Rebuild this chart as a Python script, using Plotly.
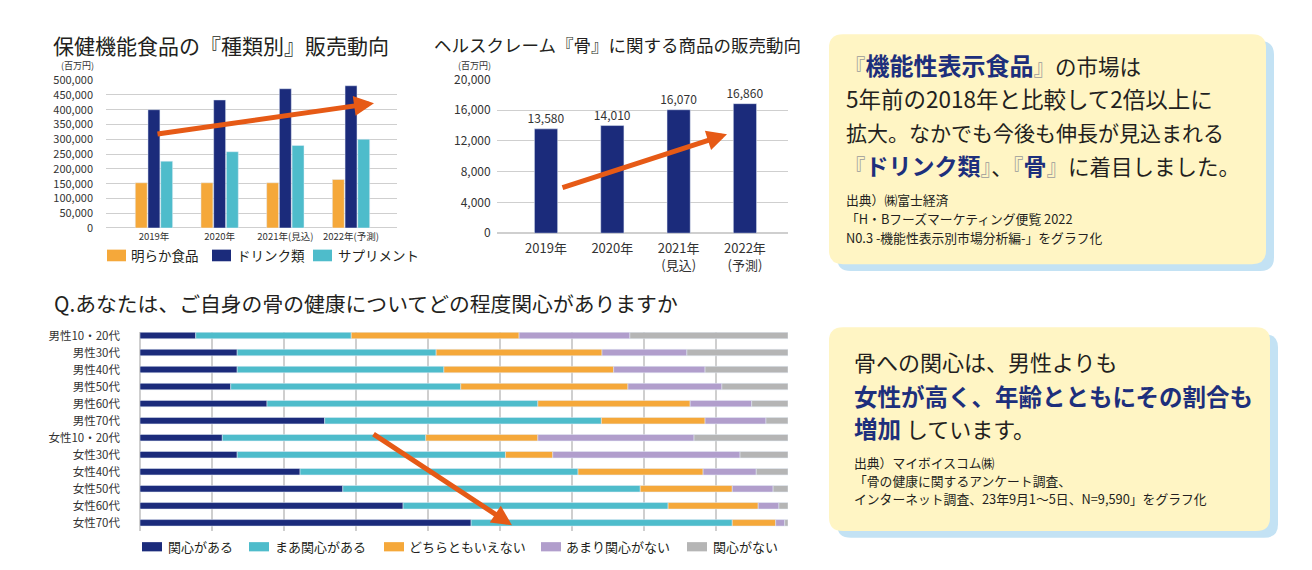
import plotly.graph_objects as go

W, H = 1312, 570
FONT = "Noto Sans CJK JP"
TXT = "#231F20"
NAVY = "#1B2B7B"
CYAN = "#4EBCCB"
ORANGE = "#F5A83A"
PURPLE = "#B19ECC"
GRAY = "#B5B5B5"
ARROW = "#E65A16"
BOLDNAVY = "#1D2F7C"

# ---------------- data ----------------
years1 = ["2019年", "2020年", "2021年(見込)", "2022年(予測)"]
series1_names = ["明らか食品", "ドリンク類", "サプリメント"]
akiraka = [153000, 153000, 153000, 164000]
drink = [400000, 433000, 471000, 481000]
supple = [226000, 258000, 279000, 300000]

years2 = ["2019年", "2020年", "2021年<br>(見込)", "2022年<br>(予測)"]
bone_sales = [13580, 14010, 16070, 16860]

groups = ["男性10・20代", "男性30代", "男性40代", "男性50代", "男性60代", "男性70代",
          "女性10・20代", "女性30代", "女性40代", "女性50代", "女性60代", "女性70代"]
series3_names = ["関心がある", "まあ関心がある", "どちらともいえない", "あまり関心がない", "関心がない"]
kanshin = [8.6, 15.0, 15.0, 14.0, 19.6, 28.5, 12.7, 15.0, 24.7, 31.3, 40.6, 51.1]
maa = [24.0, 30.7, 31.9, 35.5, 41.8, 42.7, 31.4, 41.4, 42.9, 45.9, 40.9, 40.3]
dochira = [25.9, 25.6, 26.2, 25.8, 23.5, 16.0, 17.3, 7.3, 19.3, 14.2, 13.9, 6.7]
amari = [17.1, 13.1, 14.1, 14.5, 9.5, 9.4, 24.1, 28.9, 8.2, 6.3, 3.2, 1.4]
nai = [24.4, 15.6, 12.8, 10.2, 5.6, 3.4, 14.5, 7.4, 4.9, 2.3, 1.4, 0.5]


def X(px):
    return px / W


def Y(py):
    return 1 - py / H


fig = go.Figure()

# ---- chart 1 : grouped bars ----
for name, vals, col in zip(series1_names, [akiraka, drink, supple], [ORANGE, NAVY, CYAN]):
    fig.add_trace(go.Bar(x=years1, y=vals, name=name, marker_color=col,
                         xaxis="x", yaxis="y", showlegend=False))

# ---- chart 2 : single bars ----
fig.add_trace(go.Bar(x=years2, y=bone_sales, marker_color=NAVY, width=0.35,
                     text=[f"{v:,}" for v in bone_sales], textposition="outside",
                     constraintext="none",
                     textfont=dict(size=12, color="#333333", family=FONT),
                     cliponaxis=False, xaxis="x2", yaxis="y2", showlegend=False))

# ---- chart 3 : 100% stacked horizontal bars ----
cols3 = [NAVY, CYAN, ORANGE, PURPLE, GRAY]
all3 = [kanshin, maa, dochira, amari, nai]
base = [0.0] * len(groups)
for name, vals, col in zip(series3_names, all3, cols3):
    fig.add_trace(go.Bar(y=groups, x=vals, base=list(base), orientation="h",
                         name=name, marker_color=col, width=0.38, offsetgroup="s",
                         xaxis="x3", yaxis="y3", showlegend=False))
    base = [b + v for b, v in zip(base, vals)]

grid = "#CFCFCF"
tickfont_small = dict(family=FONT, size=11.5, color="#333333")

fig.update_layout(
    width=W, height=H, margin=dict(l=0, r=0, t=0, b=0),
    paper_bgcolor="white", plot_bgcolor="white",
    barmode="group", bargap=0.42, bargroupgap=0.06,
    font=dict(family=FONT, color=TXT),
    xaxis=dict(domain=[X(106), X(397)], range=[-0.73, 3.70], anchor="y", showgrid=False,
               tickfont=dict(family=FONT, size=9.5, color="#333333"), ticks="",
               ticklabelstandoff=2, showline=False, zeroline=False),
    yaxis=dict(domain=[Y(224.7), Y(72.3)], range=[0, 500000], dtick=50000, anchor="x",
               tickformat=",d", showgrid=True, gridcolor=grid, gridwidth=1,
               tickfont=dict(family=FONT, size=11, color="#333333"), ticks="",
               ticklabelstandoff=12,
               zeroline=True, zerolinecolor=grid, zerolinewidth=1, showline=False),
    xaxis2=dict(domain=[X(496.7), X(787.7)], range=[-0.744, 3.645], anchor="y2", showgrid=False,
                tickfont=dict(family=FONT, size=13, color="#333333"), ticks="",
                ticklabelstandoff=6, showline=False, zeroline=False),
    yaxis2=dict(domain=[Y(230), Y(71.7)], range=[0, 20000], dtick=4000, anchor="x2",
                tickformat=",d", showgrid=True, gridcolor=grid, gridwidth=1,
                tickfont=dict(family=FONT, size=12, color="#333333"), ticks="",
                ticklabelstandoff=5, zeroline=True, zerolinecolor=grid, showline=False),
    xaxis3=dict(domain=[X(140), X(788)], range=[0, 100], tick0=0, dtick=100 / 9, anchor="y3",
                showticklabels=False, showgrid=True, gridcolor=grid, gridwidth=1.5,
                zeroline=True, zerolinecolor=grid, zerolinewidth=1.5, showline=False),
    yaxis3=dict(domain=[Y(537), Y(332)], range=[11.48, -0.2], type="category", anchor="x3",
                tickfont=tickfont_small, ticks="", ticklabelstandoff=19,
                showgrid=False, zeroline=False, showline=False),
)

shapes = []
ann = []


def rrect(x0, y0, x1, y1, r, color):
    p = (f"M {X(x0 + r)},{Y(y0)} L {X(x1 - r)},{Y(y0)} Q {X(x1)},{Y(y0)} {X(x1)},{Y(y0 + r)} "
         f"L {X(x1)},{Y(y1 - r)} Q {X(x1)},{Y(y1)} {X(x1 - r)},{Y(y1)} "
         f"L {X(x0 + r)},{Y(y1)} Q {X(x0)},{Y(y1)} {X(x0)},{Y(y1 - r)} "
         f"L {X(x0)},{Y(y0 + r)} Q {X(x0)},{Y(y0)} {X(x0 + r)},{Y(y0)} Z")
    return dict(type="path", path=p, xref="paper", yref="paper",
                fillcolor=color, line=dict(width=0), layer="below")


# text boxes
YEL = "#FFF5C4"
SHADOW = "#C3E2F4"
shapes.append(rrect(837, 32, 1274, 269, 14, SHADOW))
shapes.append(rrect(829, 25, 1266, 262, 14, YEL))
shapes.append(rrect(837, 334, 1278, 544, 14, SHADOW))
shapes.append(rrect(829, 327, 1270, 537, 14, YEL))


def text(x, y, s, size, color=TXT, anchor="left"):
    ann.append(dict(x=X(x), y=Y(y), xref="paper", yref="paper", text=s, showarrow=False,
                    xanchor=anchor, yanchor="middle", borderpad=0,
                    font=dict(family=FONT, size=size, color=color)))


# titles
text(52, 36, "保健機能食品の『種類別』販売動向", 21)
text(433, 36, "ヘルスクレーム『骨』に関する商品の販売動向", 17.5)
text(53, 302, "Q.あなたは、ご自身の骨の健康についてどの程度関心がありますか", 20.8)
text(77, 57.5, "(百万円)", 9, "#333333", "center")
text(474, 57, "(百万円)", 9, "#333333", "center")

# chart 1 legend
leg1 = [(107, 130), (212, 236), (313, 337)]
for (sx, tx), name, col in zip(leg1, series1_names, [ORANGE, NAVY, CYAN]):
    shapes.append(dict(type="rect", xref="paper", yref="paper", x0=X(sx), x1=X(sx + 19),
                       y0=Y(259), y1=Y(247), fillcolor=col, line=dict(width=0)))
    text(tx, 253, name, 13.5)

# chart 3 legend
leg3 = [(142, 167), (249, 274), (384, 408), (541, 565), (687, 711.5)]
for (sx, tx), name, col in zip(leg3, series3_names, cols3):
    shapes.append(dict(type="rect", xref="paper", yref="paper", x0=X(sx), x1=X(sx + 20),
                       y0=Y(558), y1=Y(548.5), fillcolor=col, line=dict(width=0)))
    text(tx, 553, name, 13)

# box 1 text
BR = "#9A9A9A"
B = lambda s, sz=24: f'<span style="color:{BOLDNAVY};font-size:{sz}px"><b>{s}</b></span>'
K = lambda s: f'<span style="color:{BR}">{s}</span>'
text(843, 56, K("『") + B("機能性表示食品") + K("』") + "の市場は", 21.5)
text(845, 91, "5年前の2018年と比較して2倍以上に", 22.5)
text(845, 125.5, "拡大。なかでも今後も伸長が見込まれる", 21)
text(843, 160, K("『") + B("ドリンク類", 23) + K("』") + "、" + K("『") + B("骨", 23) + K("』") + "に着目しました。", 21.5)
text(845, 195, "出典）㈱富士経済", 12.8)
text(845, 214.5, "「H・Bフーズマーケティング便覧 2022", 12.8)
text(845, 234, "N0.3 -機能性表示別市場分析編-」をグラフ化", 12.8)

# box 2 text
text(853, 362, "骨への関心は、男性よりも", 22)
text(853, 398, B("女性が高く、年齢とともにその割合も", 23.5), 22)
text(853, 431, B("増加", 23.5) + " しています。", 22)
text(853, 466.5, "出典）マイボイスコム㈱", 12.8)
text(853, 485, "「骨の健康に関するアンケート調査、", 12.8)
text(853, 503.5, "インターネット調査、23年9月1～5日、N=9,590」をグラフ化", 12.8)


def arrow(tail, tip):
    ann.append(dict(x=X(tip[0]), y=Y(tip[1]), xref="paper", yref="paper", text="",
                    showarrow=True, ax=tail[0] - tip[0], ay=tail[1] - tip[1],
                    axref="pixel", ayref="pixel", arrowhead=2, arrowsize=0.8,
                    arrowwidth=5, arrowcolor=ARROW, standoff=0))


arrow((156, 127), (374, 96))
arrow((561, 182), (727, 128))
arrow((372, 439), (512, 531))

fig.update_layout(shapes=shapes, annotations=ann)

fig.write_html("out.html", config={"displayModeBar": False},
               post_script="document.body.style.margin='0';")
